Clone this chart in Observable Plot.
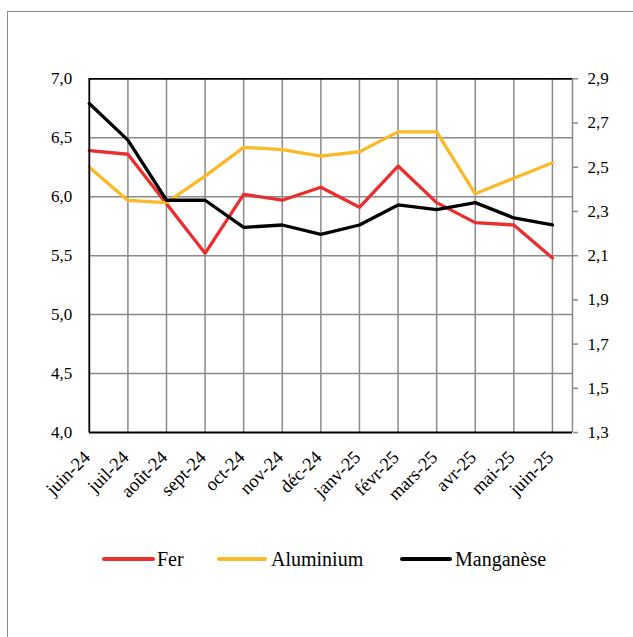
<!DOCTYPE html>
<html>
<head>
<meta charset="utf-8">
<script src="https://cdn.jsdelivr.net/npm/d3@7"></script>
<script src="https://cdn.jsdelivr.net/npm/@observablehq/plot@0.6"></script>
<style>
  html, body { margin: 0; padding: 0; background: #fff; }
  #wrap { position: relative; width: 633px; height: 637px; overflow: hidden; font-family: 'Liberation Serif'; }
  #border { position: absolute; left: 7px; top: 11px; width: 800px; height: 800px; border: 1px solid #8a8a8a; box-sizing: border-box; }
  #chart { position: absolute; left: 0; top: 0; }
  #chart svg text { font-family: 'Liberation Serif' !important; }
  .leg { position: absolute; font-size: 20px; color: #000; line-height: 1; font-family: 'Liberation Serif'; }
  .legline { position: absolute; height: 4px; border-radius: 2px; }
</style>
</head>
<body>
<div id="wrap">
  <div id="border"></div>
  <div id="chart"></div>
</div>
<script>
const months = ["juin-24","juil-24","août-24","sept-24","oct-24","nov-24","déc-24","janv-25","févr-25","mars-25","avr-25","mai-25","juin-25"];
const fer = [6.39, 6.36, 5.94, 5.52, 6.02, 5.97, 6.08, 5.91, 6.26, 5.95, 5.78, 5.76, 5.48];
const aluminium = [2.50, 2.35, 2.34, 2.46, 2.59, 2.58, 2.55, 2.57, 2.66, 2.66, 2.38, 2.45, 2.52];
const manganese = [6.79, 6.48, 5.97, 5.97, 5.74, 5.76, 5.68, 5.76, 5.93, 5.89, 5.95, 5.82, 5.76];
const leftTicks = [4.0, 4.5, 5.0, 5.5, 6.0, 6.5, 7.0];
const rightTicks = [1.3, 1.5, 1.7, 1.9, 2.1, 2.3, 2.5, 2.7, 2.9];
const seriesNames = ["Fer", "Aluminium", "Manganèse"];
const seriesColors = ["#ea2e2e", "#fbb927", "#000000"];

const leftDom = [4, 7], rightDom = [1.3, 2.9];
const toLeft = v => leftDom[0] + (v - rightDom[0]) * (leftDom[1] - leftDom[0]) / (rightDom[1] - rightDom[0]);
const toRight = v => rightDom[0] + (v - leftDom[0]) * (rightDom[1] - rightDom[0]) / (leftDom[1] - leftDom[0]);
const fmt = v => d3.format(".1f")(v).replace(".", ",");

const rows = [];
months.forEach((m, i) => {
  rows.push({i, series: "Fer", y: fer[i]});
  rows.push({i, series: "Aluminium", y: toLeft(aluminium[i])});
  rows.push({i, series: "Manganèse", y: manganese[i]});
});
const idx = months.map((m, i) => i);
const xMax = 12.52;
const grid = "#8a8a8a";

const chart = Plot.plot({
  width: 633,
  height: 520,
  marginLeft: 88.8,
  marginRight: 61,
  marginTop: 78.3,
  marginBottom: 88,
  style: {fontFamily: "Liberation Serif", fontSize: "17px", color: "#000", background: "transparent"},
  x: {type: "linear", domain: [0, xMax], axis: null},
  y: {domain: leftDom, axis: null},
  color: {domain: seriesNames, range: seriesColors},
  marks: [
    Plot.ruleX(idx.slice(1), {stroke: grid, strokeWidth: 1.5}),
    Plot.ruleY(leftTicks.slice(1, -1), {stroke: grid, strokeWidth: 1.5}),
    Plot.ruleX([xMax], {stroke: grid, strokeWidth: 1.5}),
    Plot.axisY({anchor: "left", label: null, ticks: leftTicks, tickSize: 0, tickPadding: 17, tickFormat: fmt, fontSize: 17}),
    Plot.axisY({anchor: "right", label: null, ticks: rightTicks.map(toLeft), tickSize: 5, tickPadding: 10, stroke: grid, strokeWidth: 1.5, tickFormat: v => fmt(toRight(v)), fontSize: 17}),
    Plot.text(idx, {x: d => d, frameAnchor: "bottom", text: d => months[d], rotate: -45, textAnchor: "end", dy: 26, dx: 2, fontSize: 18.5}),
    Plot.line(rows, {x: "i", y: "y", z: "series", stroke: "series", strokeWidth: 3.3, strokeLinejoin: "round"}),
    Plot.ruleY(leftDom, {stroke: "#000", strokeWidth: 1.8}),
    Plot.ruleX([0], {stroke: "#000", strokeWidth: 1.8})
  ]
});
document.getElementById("chart").appendChild(chart);

// legend
const wrap = document.getElementById("wrap");
const legPos = [{x1: 102, x2: 155, tx: 157}, {x1: 217, x2: 267, tx: 271}, {x1: 400, x2: 452, tx: 455}];
seriesNames.forEach((name, k) => {
  const p = legPos[k];
  const ln = document.createElement("div");
  ln.className = "legline";
  ln.style.left = p.x1 + "px";
  ln.style.width = (p.x2 - p.x1) + "px";
  ln.style.top = "557px";
  ln.style.background = seriesColors[k];
  wrap.appendChild(ln);
  const t = document.createElement("div");
  t.className = "leg";
  t.style.left = p.tx + "px";
  t.style.top = "549px";
  t.textContent = name;
  wrap.appendChild(t);
});
</script>
</body>
</html>
